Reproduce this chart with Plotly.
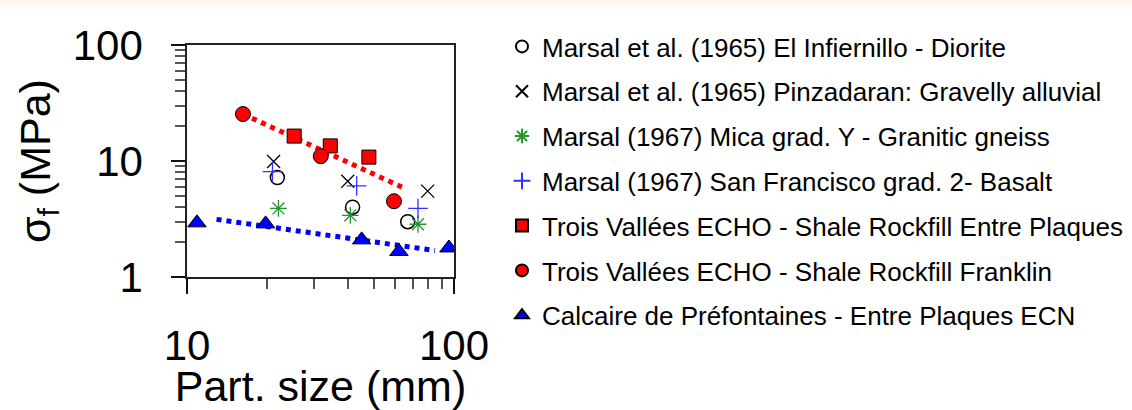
import plotly.graph_objects as go

# Particle size (mm) and fracture strength sigma_f (MPa) per test series
infiernillo_x = [21.8, 41.7, 67.1]
infiernillo_y = [7.2, 4.0, 3.0]

pinzadaran_x = [21.1, 40.0, 79.7]
pinzadaran_y = [9.9, 6.7, 5.5]

mica_x = [22.0, 40.9, 73.3]
mica_y = [3.9, 3.4, 2.85]

sanfrancisco_x = [20.9, 43.2, 73.3]
sanfrancisco_y = [8.1, 6.1, 3.9]

echo_plaques_x = [25.2, 34.4, 48.0]
echo_plaques_y = [16.4, 13.5, 10.8]

echo_franklin_x = [16.2, 31.7, 59.6]
echo_franklin_y = [25.4, 11.0, 4.5]

calcaire_x = [10.9, 19.7, 45.1, 62.2, 95.7]
calcaire_y = [2.93, 2.87, 2.09, 1.66, 1.78]

# Power-law trend lines (end points)
trend_red_x = [16.2, 64.4]
trend_red_y = [25.4, 5.9]
trend_blue_x = [12.9, 84.9]
trend_blue_y = [3.14, 1.69]

x_ticks = [10, 100]
x_ticktext = ["10", "100"]
y_ticks = [1, 10, 100]
y_ticktext = ["1", "10", "100"]

W, H = 1132, 410
ML, MR, MT, MB = 187, 678, 45, 133
FONT = "Liberation Sans, Arial, sans-serif"

fig = go.Figure()

# Trend lines
fig.add_trace(go.Scatter(x=trend_red_x, y=trend_red_y, mode="lines",
                         line=dict(color="#ff0000", width=5, dash="dot"),
                         showlegend=False, hoverinfo="skip"))
fig.add_trace(go.Scatter(x=trend_blue_x, y=trend_blue_y, mode="lines",
                         line=dict(color="#0000ff", width=5, dash="dot"),
                         showlegend=False, hoverinfo="skip"))

series = [
    ("Marsal et al. (1965) El Infiernillo - Diorite", infiernillo_x, infiernillo_y,
     dict(symbol="circle-open", size=14, color="black", line=dict(width=1.5, color="black"))),
    ("Marsal et al. (1965) Pinzadaran: Gravelly alluvial", pinzadaran_x, pinzadaran_y,
     dict(symbol="x-thin-open", size=13, color="black", line=dict(width=1.3, color="black"))),
    ("Marsal (1967) Mica grad. Y - Granitic gneiss", mica_x, mica_y,
     dict(symbol="asterisk-open", size=14, color="#22962a", line=dict(width=1.3, color="#22962a"))),
    ("Marsal (1967) San Francisco grad. 2- Basalt", sanfrancisco_x, sanfrancisco_y,
     dict(symbol="cross-thin-open", size=14, color="#3030ff", line=dict(width=1.3, color="#3030ff"))),
    ("Trois Vallées ECHO - Shale Rockfill Entre Plaques", echo_plaques_x, echo_plaques_y,
     dict(symbol="square", size=14, color="#ff0000", line=dict(width=1, color="black"))),
    ("Trois Vallées ECHO - Shale Rockfill Franklin", echo_franklin_x, echo_franklin_y,
     dict(symbol="circle", size=15, color="#ff0000", line=dict(width=1, color="black"))),
    ("Calcaire de Préfontaines - Entre Plaques ECN", calcaire_x, calcaire_y,
     dict(symbol="triangle-up", size=16, color="#0000ff", line=dict(width=1, color="black"))),
]

for i, (name, xs, ys, marker) in enumerate(series):
    fig.add_trace(go.Scatter(x=xs, y=ys, mode="markers", name=name,
                             marker=marker, legendgroup=f"g{i}"))

axis_common = dict(
    type="log",
    showline=True, mirror=True, linecolor="#222", linewidth=1.5,
    showgrid=False, zeroline=False,
    ticks="outside", tickcolor="#111", tickwidth=1.5,
    tickfont=dict(family=FONT, size=42, color="black"),
    minor=dict(ticks="outside", dtick="D1", tickcolor="#555", tickwidth=1.5, ticklen=10,
               showgrid=False),
)

fig.update_xaxes(**axis_common, range=[1, 2], tickvals=x_ticks, ticktext=x_ticktext,
                 ticklen=15, ticklabelstandoff=16,
                 title=dict(text="Part. size (mm)", standoff=0,
                            font=dict(family=FONT, size=43, color="black")))
fig.update_yaxes(**axis_common, range=[0, 2], tickvals=y_ticks, ticktext=y_ticktext,
                 ticklen=14, ticklabelstandoff=20)

pw = W - ML - MR
ph = H - MT - MB

# Vertical axis title
fig.add_annotation(text="σ<sub>f</sub> (MPa)", textangle=-90,
                   xref="paper", yref="paper", x=(38 - ML) / pw, y=0.5,
                   xanchor="center", yanchor="middle", showarrow=False,
                   font=dict(family=FONT, size=43, color="black"))

# Pale band along the top edge of the page
fig.add_shape(type="rect", xref="paper", yref="paper", layer="below",
              x0=-ML / pw, x1=(W - ML) / pw, y0=(H - MB - 7) / ph, y1=(H - MB) / ph,
              fillcolor="#fef9ee", line=dict(width=0))

fig.update_layout(
    width=W, height=H,
    margin=dict(l=ML, r=MR, t=MT, b=MB, autoexpand=False),
    paper_bgcolor="white", plot_bgcolor="white",
    font=dict(family=FONT, color="black"),
    showlegend=True,
    legend=dict(
        xref="container", yref="container",
        x=502 / W, y=1 - 23 / H, xanchor="left", yanchor="top",
        font=dict(family=FONT, size=26, color="black"),
        itemsizing="constant", tracegroupgap=8, bgcolor="rgba(0,0,0,0)",
        borderwidth=0, maxheight=400,
    ),
)

fig.write_html("out.html")
